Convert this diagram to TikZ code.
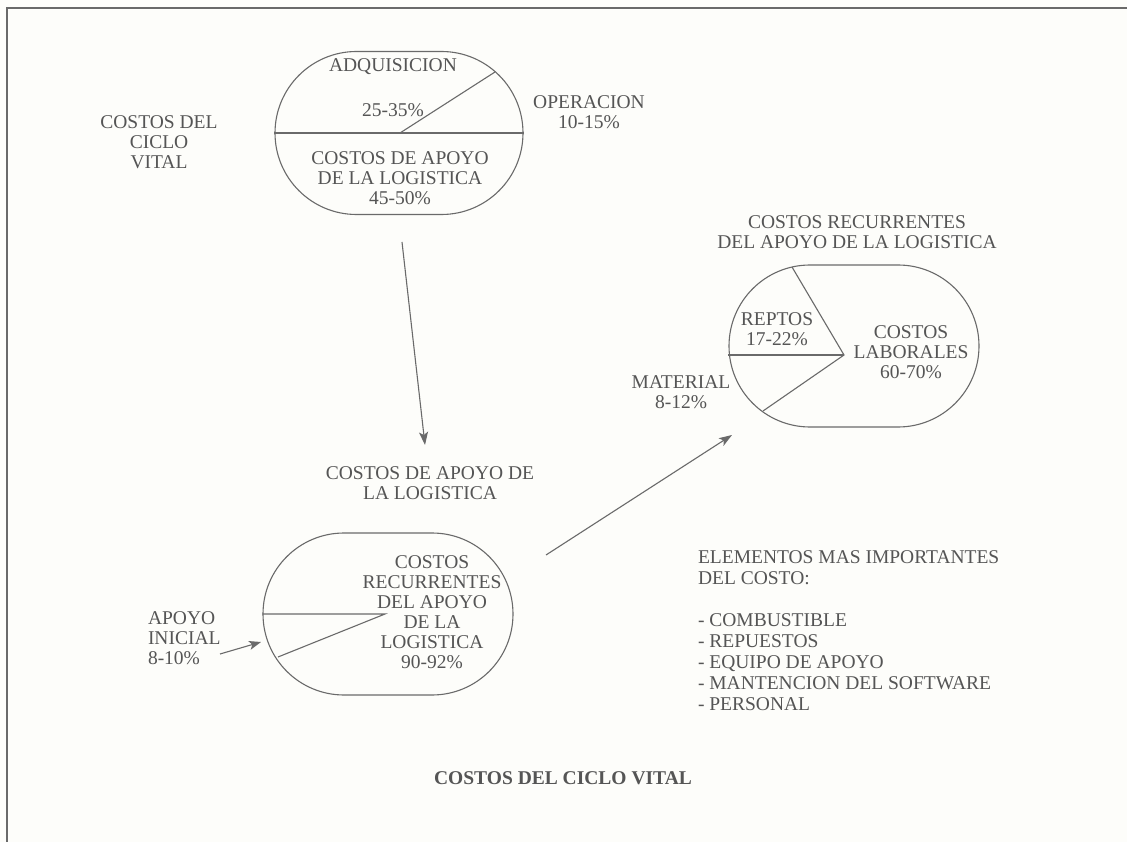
\documentclass[tikz,border=0pt]{standalone}
\usepackage{fontspec}
\setmainfont{Liberation Serif}
\usetikzlibrary{arrows.meta,shapes.misc}
\definecolor{ink}{HTML}{555555}
\definecolor{rule}{HTML}{6A6A6A}
\definecolor{paper}{HTML}{FDFDFA}
\begin{document}
\begin{tikzpicture}[x=1pt,y=-1pt,
  txt/.style={inner sep=0pt,outer sep=0pt,text=ink,align=center,anchor=north,
    font=\fontsize{19.5}{20}\selectfont},
  pie/.style={draw=rule,line width=1.1pt,shape=rounded rectangle,
    minimum width=250pt,minimum height=162pt,inner sep=0pt},
  part/.style={draw=rule,line width=1.1pt},
  flow/.style={draw=rule,line width=1.1pt,-{Stealth[length=13pt,width=9pt,inset=3pt]}}]
% page and frame
\fill[paper] (0,0) rectangle (1127,842);
\useasboundingbox (0,0) rectangle (1127,842);
\draw[rule,line width=1.5pt] (1127,8) -- (7,8) -- (7,842);

% life-cycle cost pie
\node[pie,minimum width=248pt,minimum height=163pt] (ciclo) at (399,133) {};
\draw[part] (ciclo.west) -- (ciclo.east);
\coordinate (c0) at (400,133);
\coordinate (c1) at (495,72);
\draw[part] (c0) -- (c1);
\node[txt] (adq) at (393,58.5) {ADQUISICION};
\node[txt] (adqp) at (393,103.5) {25-35\%};
\node[txt] (apoyo) at (400,151.5) {COSTOS DE APOYO\\DE LA LOGISTICA\\45-50\%};
\node[txt] (oper) at (589,95.5) {OPERACION\\10-15\%};
\node[txt] (cv) at (159,115.5) {COSTOS DEL\\CICLO\\VITAL};

% logistics support pie
\node[txt] (apoyot) at (430,466.5) {COSTOS DE APOYO DE\\LA LOGISTICA};
\node[pie] (log) at (388,614) {};
\coordinate (l0) at (385,614);
\coordinate (l1) at (278,657);
\draw[part] (log.west) -- (l0) -- (l1);
\node[txt] (recur) at (432,555.5) {COSTOS\\RECURRENTES\\DEL APOYO\\DE LA\\LOGISTICA\\90-92\%};
\node[txt,align=left,anchor=north west] (ini) at (148,611.5) {APOYO\\INICIAL\\8-10\%};

% recurring support pie
\node[txt] (recurt) at (857,215.5) {COSTOS RECURRENTES\\DEL APOYO DE LA LOGISTICA};
\node[pie] (rec) at (854,346) {};
\coordinate (r0) at (844,355);
\coordinate (r1) at (792,267);
\coordinate (r2) at (763,411);
\draw[part] (rec.west |- r0) -- (r0);
\draw[part] (r1) -- (r0) -- (r2);
\node[txt] (rep) at (777,312.5) {REPTOS\\17-22\%};
\node[txt] (lab) at (911,325.5) {COSTOS\\LABORALES\\60-70\%};
\node[txt] (mat) at (681,375.5) {MATERIAL\\8-12\%};

% cost elements list
\node[txt,align=left,anchor=north west,font=\fontsize{19.5}{21}\selectfont] (elem) at (698,550.5)
  {ELEMENTOS MAS IMPORTANTES\\DEL COSTO:\\[21pt]- COMBUSTIBLE\\- REPUESTOS\\- EQUIPO DE APOYO\\- MANTENCION DEL SOFTWARE\\- PERSONAL};

% connectors
\coordinate (a0) at (402,242);
\coordinate (a1) at (425,445);
\draw[flow] (a0) -- (a1);
\coordinate (b0) at (546,555);
\coordinate (b1) at (732,435);
\draw[flow] (b0) -- (b1);
\coordinate (i0) at (220,654);
\coordinate (i1) at (261,642);
\draw[flow,-{Stealth[length=12pt,width=9pt,inset=3pt]}] (i0) -- (i1);

% caption
\node[txt,font=\bfseries\fontsize{19.5}{20}\selectfont] (title) at (563,771.5) {COSTOS DEL CICLO VITAL};
\end{tikzpicture}
\end{document}
